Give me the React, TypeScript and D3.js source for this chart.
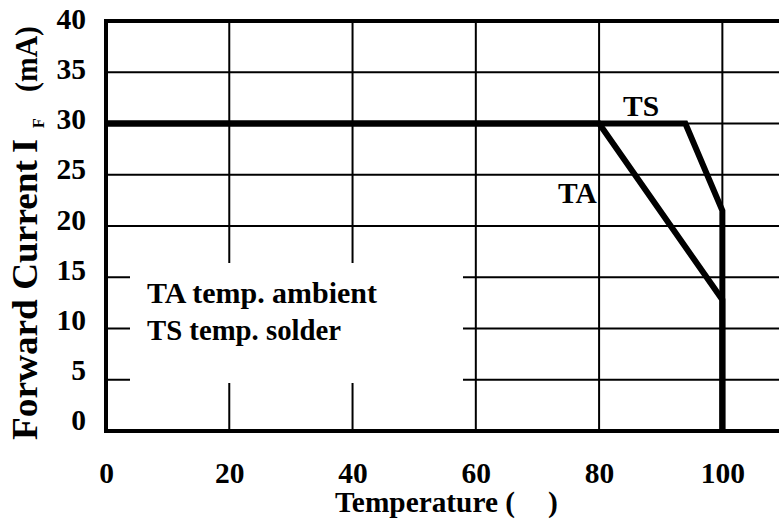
import React from "react";
import * as d3 from "d3";

const xTicks = [0, 20, 40, 60, 80, 100];
const yTicks = [0, 5, 10, 15, 20, 25, 30, 35, 40];
const taCurve: [number, number][] = [[0, 30], [80, 30], [100, 12.8], [100, 0]];
const tsCurve: [number, number][] = [[0, 30], [94, 30], [100, 21.5], [100, 0]];
const legendLines = ["TA temp. ambient", "TS temp. solder"];

const W = 779, H = 526;
const FONT = "'Liberation Serif', 'Times New Roman', serif";
const FS = 29.5;

export default function App() {
  const x = d3.scaleLinear().domain([0, 110]).range([106, 784]);
  const y = d3.scaleLinear().domain([0, 40]).range([431, 21]);
  const yLab = d3.scaleLinear().domain([0, 40]).range([430, 29]);
  const line = d3.line<[number, number]>().x(d => x(d[0])).y(d => y(d[1]));
  const legendLen = [230, 194];

  return (
    <svg width={W} height={H} style={{ position: "absolute", left: 0, top: 0, background: "#fff" }}>
      <rect x={0} y={0} width={W} height={H} fill="#fff" />
      {/* grid */}
      {xTicks.filter(t => t > 0).map(t => (
        <line key={"gx" + t} x1={x(t)} x2={x(t)} y1={y(0)} y2={y(40)} stroke="#000" strokeWidth={2} />
      ))}
      {yTicks.filter(t => t > 0 && t < 40).map(t => (
        <line key={"gy" + t} x1={x(0)} x2={x(110)} y1={y(t)} y2={y(t)} stroke="#000" strokeWidth={2} />
      ))}
      {/* legend box */}
      <rect x={130} y={263} width={333} height={120} fill="#fff" />
      {legendLines.map((s, i) => (
        <text key={s} x={147} y={303 + i * 37} fontFamily={FONT} fontWeight="bold" fontSize={FS} fill="#000"
          textLength={legendLen[i]} lengthAdjust="spacingAndGlyphs">{s}</text>
      ))}
      {/* curves */}
      <path d={line(taCurve) || ""} fill="none" stroke="#000" strokeWidth={6} strokeLinejoin="miter" />
      <path d={line(tsCurve) || ""} fill="none" stroke="#000" strokeWidth={6} strokeLinejoin="miter" />
      {/* border */}
      <rect x={x(0)} y={y(40)} width={x(110) - x(0)} height={y(0) - y(40)} fill="none" stroke="#000" strokeWidth={4} />
      {/* curve labels */}
      <text x={623} y={116} fontFamily={FONT} fontWeight="bold" fontSize={FS}>TS</text>
      <text x={558} y={203} fontFamily={FONT} fontWeight="bold" fontSize={FS}>TA</text>
      {/* x tick labels */}
      {xTicks.map(t => (
        <text key={"xt" + t} x={x(t) + 0.5} y={483} textAnchor="middle" fontFamily={FONT} fontWeight="bold" fontSize={FS}>{t}</text>
      ))}
      {/* y tick labels */}
      {yTicks.map(t => (
        <text key={"yt" + t} x={86} y={yLab(t)} textAnchor="end" fontFamily={FONT} fontWeight="bold" fontSize={FS}>{t}</text>
      ))}
      {/* axis titles */}
      <text x={335} y={512} fontFamily={FONT} fontWeight="bold" fontSize={FS} textLength={180} lengthAdjust="spacingAndGlyphs">Temperature (</text>
      <text x={548} y={512} fontFamily={FONT} fontWeight="bold" fontSize={FS}>)</text>
      <g transform="translate(37, 440) rotate(-90)" fontFamily={FONT} fontWeight="bold" fontSize={36}>
        <text x={0} y={0} textLength={280} lengthAdjust="spacingAndGlyphs">Forward Current</text>
        <text x={287} y={0}>I</text>
        <text x={312} y={7} fontSize={16}>F</text>
        <text x={348} y={0} fontSize={31} textLength={66} lengthAdjust="spacingAndGlyphs">(mA)</text>
      </g>
    </svg>
  );
}
